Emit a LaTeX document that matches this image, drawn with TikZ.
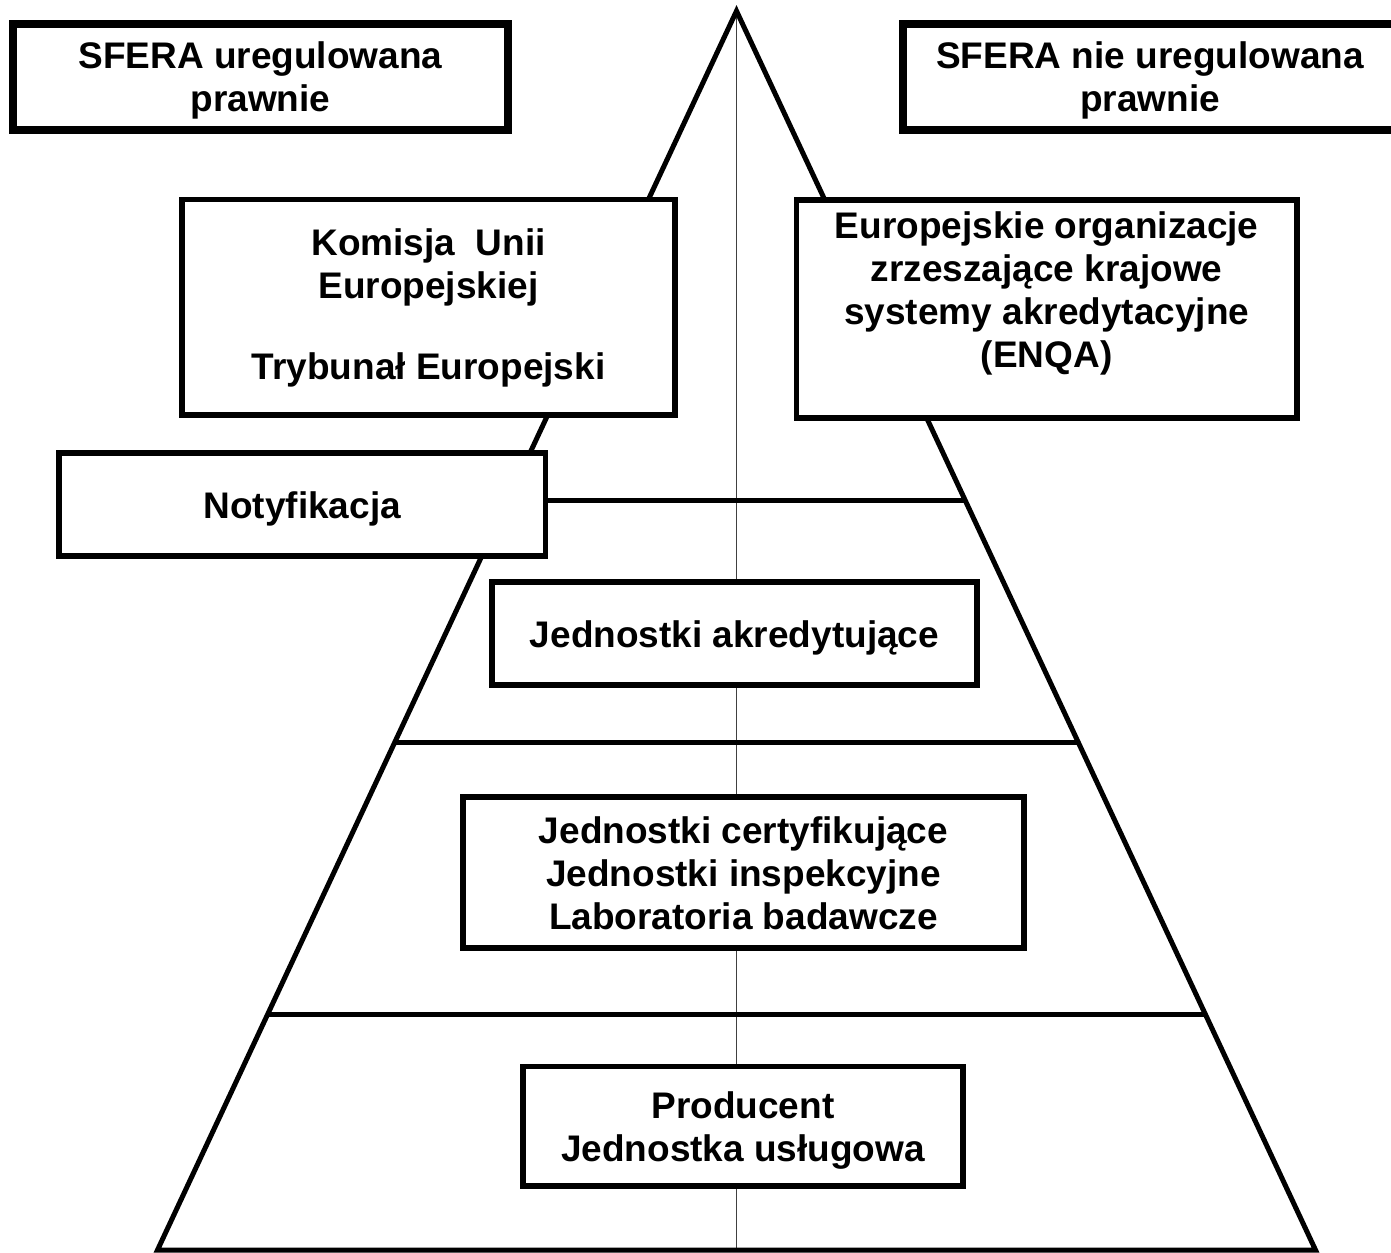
\documentclass[tikz,border=0pt]{standalone}
\usepackage{fontspec}
\setmainfont{Liberation Sans}
\usetikzlibrary{calc}
\begin{document}
\begin{tikzpicture}[x=1pt,y=-1pt,
  box/.style={draw=black, fill=white, line width=5.5pt, inner sep=0pt},
  thickbox/.style={box, line width=8pt},
  txt/.style={inner sep=0pt, align=center, font=\bfseries\fontsize{37}{43}\selectfont},
  side/.style={line width=5pt, line join=miter},
  tier/.style={line width=5pt},
  axisline/.style={line width=1.2pt, black!75}]
\fill[white] (0,0) rectangle (1391,1252);
\useasboundingbox (0,0) rectangle (1391,1252);
% pyramid
\coordinate (apex) at (736.5,11);
\coordinate (bl) at (157.5,1250);
\coordinate (br) at (1315.5,1250);
\coordinate (bc) at (736.5,1250);
\draw[axisline] (apex) -- (bc);
\coordinate (l500) at ($(apex)!0.3947!(bl)$);
\coordinate (r500) at ($(apex)!0.3947!(br)$);
\coordinate (l742) at ($(apex)!0.5900!(bl)$);
\coordinate (r742) at ($(apex)!0.5900!(br)$);
\coordinate (l1015) at ($(apex)!0.8103!(bl)$);
\coordinate (r1015) at ($(apex)!0.8103!(br)$);
\draw[side] (bl) -- (apex) -- (br) -- cycle;
\draw[tier] (l500) -- (r500);
\draw[tier] (l742) -- (r742);
\draw[tier] (l1015) -- (r1015);
% boxes
\node[thickbox, minimum width=495, minimum height=106] (sferaL) at (260.5,77.5) {};
\node[txt] (sferaLtext) at ($(sferaL.center)+(0,3)$) {SFERA uregulowana\\prawnie};
\node[thickbox, minimum width=494, minimum height=106] (sferaR) at (1150,77.5) {};
\node[txt] (sferaRtext) at ($(sferaR.center)+(0,3)$) {SFERA nie uregulowana\\prawnie};
\node[box, minimum width=493, minimum height=215.5] (komisja) at (428.5,307.25) {};
\node[txt] (komisjatext) at ($(komisja.center)+(0,1)$)
  {Komisja\ \ Unii\\Europejskiej\\[38pt]Trybunał Europejski};
\node[box, minimum width=500.5, minimum height=218] (enqa) at (1046.75,309) {};
\node[txt] (enqatext) at (1046.75,293)
  {Europejskie organizacje\\zrzeszające krajowe\\systemy akredytacyjne\\(ENQA)};
\node[box, minimum width=486.5, minimum height=103] (notyf) at (302.25,504.5) {};
\node[txt] (notyftext) at ($(notyf.center)+(0,4)$) {Notyfikacja};
\node[box, minimum width=485, minimum height=103] (akred) at (734.5,633.5) {};
\node[txt] (akredtext) at ($(akred.center)+(0,4)$) {Jednostki akredytujące};
\node[box, minimum width=561, minimum height=151] (cert) at (743.5,872.5) {};
\node[txt] (certtext) at ($(cert.center)+(0,1)$)
  {Jednostki certyfikujące\\Jednostki inspekcyjne\\Laboratoria badawcze};
\node[box, minimum width=440, minimum height=119.5] (prod) at (743,1126.25) {};
\node[txt] (prodtext) at ($(prod.center)+(0,4)$) {Producent\\Jednostka usługowa};
\end{tikzpicture}
\end{document}
